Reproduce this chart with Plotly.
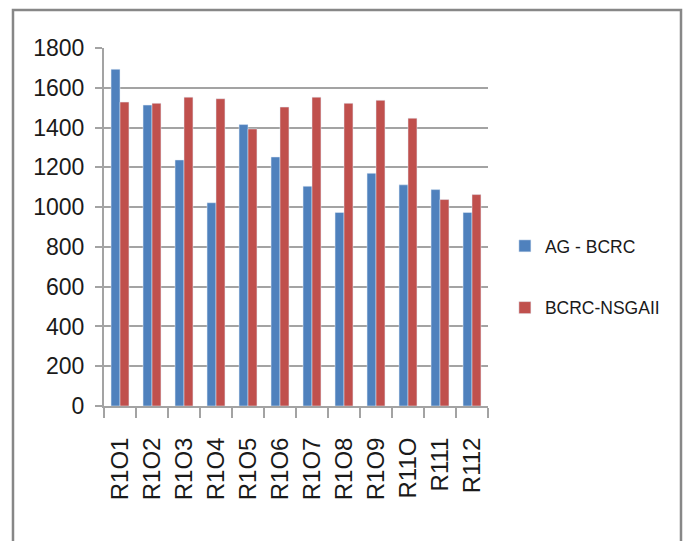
import plotly.graph_objects as go

# Instances and results for the two methods
categories = ["R1O1", "R1O2", "R1O3", "R1O4", "R1O5", "R1O6",
              "R1O7", "R1O8", "R1O9", "R11O", "R111", "R112"]
ag_bcrc = [1693, 1513, 1237, 1022, 1415, 1252, 1105, 973, 1170, 1112, 1088, 973]
bcrc_nsgaii = [1528, 1522, 1553, 1545, 1393, 1503, 1553, 1522, 1537, 1447, 1038, 1063]
y_ticks = [0, 200, 400, 600, 800, 1000, 1200, 1400, 1600, 1800]

grid_col = "#a3a3a3"

fig = go.Figure()
fig.add_trace(go.Bar(x=categories, y=ag_bcrc, name="AG - BCRC",
                     marker=dict(color="#4F81BD"), legendgroup="a"))
fig.add_trace(go.Bar(x=categories, y=bcrc_nsgaii, name="BCRC-NSGAII",
                     marker=dict(color="#C0504D"), legendgroup="b"))

fig.update_layout(
    width=686, height=541,
    margin=dict(l=104, r=198, t=48, b=135, autoexpand=False),
    paper_bgcolor="white", plot_bgcolor="white",
    barmode="group", bargap=0.44, bargroupgap=0,
    font=dict(family="Liberation Sans, Arial, sans-serif", color="#1a1a1a"),
    showlegend=True,
    legend=dict(xref="container", yref="container", x=0.736, y=0.488,
                xanchor="left", yanchor="middle",
                font=dict(size=17.5), tracegroupgap=36,
                itemwidth=30, bgcolor="rgba(0,0,0,0)"),
    xaxis=dict(
        type="category", tickson="boundaries", ticks="outside", ticklen=10,
        tickcolor=grid_col, tickwidth=2, showline=True, linecolor=grid_col,
        linewidth=2, tickangle=-90, tickfont=dict(size=24),
        ticklabelstandoff=20, showgrid=False, automargin=False,
    ),
    yaxis=dict(
        range=[0, 1800], tickvals=y_ticks, ticks="outside", ticklen=7,
        tickcolor=grid_col, tickwidth=2, showline=True, linecolor=grid_col,
        linewidth=2, showgrid=True, gridcolor=grid_col, gridwidth=2,
        zeroline=False, tickfont=dict(size=23), ticklabelstandoff=6,
        automargin=False,
    ),
)

# Outer chart frame
fig.add_shape(type="rect", xref="paper", yref="paper",
              x0=-0.237, x1=1.5026, y0=-0.45, y1=1.106,
              line=dict(color="#878787", width=2.5), layer="below")

fig.write_html("out.html")
